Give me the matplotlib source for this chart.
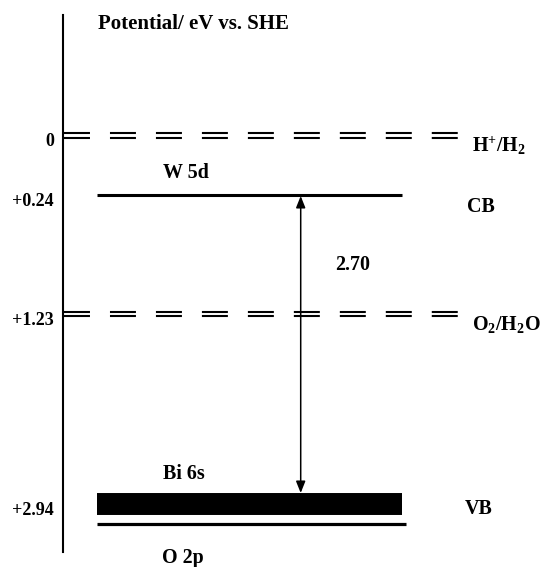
import numpy as np
import matplotlib
matplotlib.use("Agg")
import matplotlib.pyplot as plt
import matplotlib.transforms as mtransforms

plt.rcParams['font.family'] = 'Liberation Serif'
plt.rcParams['font.weight'] = 'bold'
plt.rcParams['mathtext.fontset'] = 'custom'
plt.rcParams['mathtext.rm'] = 'Liberation Serif:bold'
plt.rcParams['mathtext.bf'] = 'Liberation Serif:bold'
plt.rcParams['mathtext.it'] = 'Liberation Serif:bold'
plt.rcParams['lines.scale_dashes'] = False

# Potentials (eV vs. SHE)
redox_levels = [0.0, 1.23]
redox_labels = [r'$\mathrm{H^{+}/H_{2}}$', r'$\mathrm{O_{2}/H_{2}O}$']
tick_levels = [0.0, 0.24, 1.23, 2.94]
tick_labels = ['0', '+0.24', '+1.23', '+2.94']
cb_level = 0.24
vb_level = 2.94
gap_label = '2.70'

# The diagram is schematic: potentials are placed on pixel rows (not to scale)
anchor_pot = [-1.5, 0.0, 0.24, 1.23, 2.94, 3.6]
anchor_pix = [-45.25, 135.5, 194.5, 313.8, 504.0, 579.0]

W, H = 549, 567


def fwd(p):
    return np.interp(p, anchor_pot, anchor_pix)


def inv(y):
    return np.interp(y, anchor_pix, anchor_pot)


fig = plt.figure(figsize=(W / 100, H / 100), dpi=100)
ax = fig.add_axes([0, 0, 1, 1])
ax.set_yscale('function', functions=(fwd, inv))
ax.set_xlim(0, W)
ax.set_ylim(inv(H), inv(0))


def off(dy, dx=0):
    # shift by pixels, dy positive = downwards
    return mtransforms.offset_copy(ax.transData, fig=fig, x=dx, y=-dy, units='dots')


# axis line
for s in ['top', 'right', 'bottom']:
    ax.spines[s].set_visible(False)
ax.spines['left'].set_position(('data', 63))
ax.spines['left'].set_bounds(inv(552), inv(15))
ax.spines['left'].set_linewidth(1.5)
ax.set_xticks([])
ax.set_yticks([])

# tick labels
for lvl, lab in zip(tick_levels, tick_labels):
    ax.text(54, lvl, lab, ha='right', va='baseline', fontsize=13, transform=off(11))

# redox couples: double dashed lines
for lvl, lab in zip(redox_levels, redox_labels):
    for d in (-2.2, 2.2):
        ax.plot([64, 458], [lvl, lvl], color='black', lw=1.5, dashes=(18.7, 14.4),
                transform=off(d))
    ax.text(472, lvl, lab, ha='left', va='baseline', fontsize=14.4, transform=off(16.5))

# conduction band (W 5d)
ax.plot([97, 402], [cb_level, cb_level], color='black', lw=2.2, solid_capstyle='butt')
ax.text(163, cb_level, 'W 5d', ha='left', va='baseline', fontsize=14.4, transform=off(-16))
ax.text(467, cb_level, 'CB', ha='left', va='baseline', fontsize=14.4, transform=off(17))

# valence band (Bi 6s / O 2p)
ax.plot([97, 402], [vb_level, vb_level], color='black', lw=15.8, solid_capstyle='butt')
ax.plot([97, 406], [vb_level, vb_level], color='black', lw=2.3, solid_capstyle='butt',
        transform=off(19.5))
ax.text(163, vb_level, 'Bi 6s', ha='left', va='baseline', fontsize=14.4, transform=off(-25))
ax.text(465, vb_level, 'VB', ha='left', va='baseline', fontsize=14.4, transform=off(10.5))
ax.text(162, vb_level, 'O 2p', ha='left', va='baseline', fontsize=14.4, transform=off(59))

# band gap arrow
ax.annotate('', xy=(300.7, vb_level), xycoords=off(-11),
            xytext=(300.7, cb_level), textcoords=off(1.5),
            arrowprops=dict(arrowstyle='<|-|>,head_length=0.5,head_width=0.2',
                            lw=1.1, color='black', shrinkA=0, shrinkB=0,
                            mutation_scale=14))
ax.text(335, cb_level, gap_label, ha='left', va='baseline', fontsize=14.4, transform=off(75))

# title
ax.text(98 / W, 1 - 29 / H, 'Potential/ eV vs. SHE', ha='left', va='baseline',
        fontsize=15, transform=ax.transAxes)

fig.savefig('out.png', dpi=100)
